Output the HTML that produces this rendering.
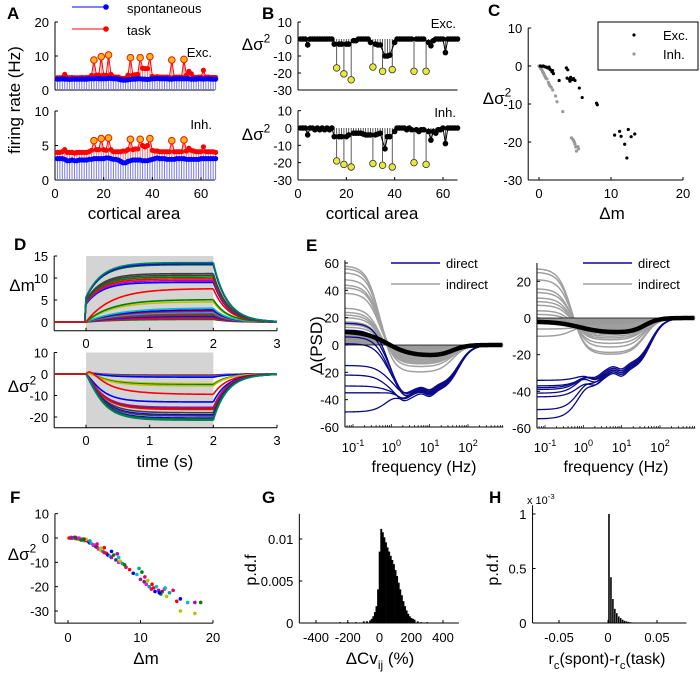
<!DOCTYPE html>
<html><head><meta charset="utf-8">
<style>
html,body{margin:0;padding:0;background:#fff;overflow:hidden;}
svg{display:block;font-family:"Liberation Sans",sans-serif;}
</style></head>
<body>
<svg id="fig" width="700" height="676" viewBox="0 0 700 676">
<rect x="0" y="0" width="700" height="676" fill="#fff"/>
</svg>
<script>
// ---------- DATA ----------
const areas = [];
for (let i = 1; i <= 66; i++) areas.push(i);
const stimAreas = [16,19,22,31,35,39,48,53];
const spontExc = [3.2,3.2,3.3,3.2,3.2,3.1,3.2,3.2,3.2,3.2,3.2,3.2,3.2,3.3,3.3,3.3,3.4,3.3,3.3,3.3,3.3,3.4,3.4,3.3,3.3,3.2,3.0,2.9,2.9,3.0,3.1,3.2,3.2,3.3,3.3,3.2,3.2,3.1,3.2,3.3,3.3,3.4,3.3,3.3,3.3,3.3,3.2,3.2,3.3,3.3,3.3,3.3,3.3,3.3,3.3,3.2,3.2,3.2,3.3,3.3,3.2,3.3,3.3,3.2,3.2,3.2];
const taskExc = [3.6,3.6,3.7,4.6,3.7,3.6,3.7,3.6,3.6,3.6,3.7,3.6,3.7,3.7,4.3,8.8,4.4,4.4,9.8,4.4,4.3,10.3,4.6,3.9,3.8,3.8,3.5,3.4,3.5,4.4,9.5,4.4,4.5,4.6,9.5,6.4,6.3,6.3,9.8,4.0,3.8,3.9,3.8,3.8,3.8,3.8,3.7,8.8,3.8,3.8,3.8,3.8,9.0,4.3,5.5,4.8,3.8,3.7,3.8,3.8,5.8,3.8,3.8,3.7,3.7,3.7];
const spontInh = [3.1,3.1,3.1,3.0,2.8,2.8,2.9,2.8,2.8,2.9,2.9,2.9,2.9,3.0,3.0,3.1,3.1,3.1,3.1,3.1,3.2,3.2,3.1,3.0,3.0,2.9,2.7,2.5,2.5,2.7,2.8,2.9,2.9,2.9,2.9,2.8,2.8,2.8,2.9,3.0,3.1,3.2,3.1,3.1,3.1,3.0,3.0,3.0,3.0,3.1,3.1,3.1,3.1,3.0,3.0,3.0,3.0,3.0,3.0,3.1,3.1,3.1,3.1,3.1,3.1,3.1];
const taskInh = [4.0,4.0,4.1,4.4,4.0,4.0,4.0,3.9,4.0,4.0,4.0,4.0,4.0,4.1,4.3,5.7,4.4,4.4,6.0,4.4,4.3,6.1,4.4,4.1,4.1,4.1,4.1,4.2,4.2,4.4,5.9,4.4,4.5,4.5,5.9,5.0,4.8,5.0,6.0,4.3,4.2,4.2,4.1,4.1,4.1,4.1,4.1,5.7,4.1,4.1,4.1,4.1,5.8,4.2,4.6,4.3,4.2,4.1,4.1,4.1,4.8,4.1,4.1,4.1,4.1,4.0];
const dsExc = [0,0,0,-3.5,0,0,0,0,0,0,0,0,0,0,-3,-17,-3,-3,-20.5,-3,-3,-24,-1,-1,0,0,0,0,0,-2,-16.5,-3,-3.5,-3.5,-19,-10,-10,-9.5,-18,-2,0,0,0,0,0,0,0,-19,0,0,0,0,-19,-2,-4,-1,0,0,0,0,-8,0,0,0,0,0];
const dsInh = [0,0,0,-4,0,0,-1,0,-1,0,-1,0,-1,0,-5,-19,-5,-5,-21,-5,-4,-22.5,-3,-3,-3,-3,-3.5,-4,-4,-4,-20.5,-4,-3.5,-3,-21.5,-12,-5,-5,-22.5,-2,0,0,0,0,-1,0,-1,-20,-1,-2,-1,-1,-21,-2,-7,-2,-3,-1,-1,0,-9,0,0,0,0,0];
const cExcDm = [0.2,0.4,0.6,0.8,1,1.2,1.4,1.6,1.8,2,1.5,1.9,2.8,3.8,4,3.9,4.2,4.4,4.6,4.8,4.3,5.0,5.6,6,8,8.1,10.5,11.2,11.4,11.9,12.2,12.4,12.8,13.3];
const cExcDs = [0,-0.1,0,-0.2,-0.3,-0.5,-0.3,-1,-1.5,-2,-0.8,-1.2,-3.8,-0.5,-1,-3.2,-3.5,-3,-3.6,-3.3,-4,-3.8,-5.8,-8.3,-9.8,-10.2,-18.2,-17.2,-18.5,-20.6,-24.2,-16.7,-18.6,-17.9];
const cInhDm = [0,0.1,0.2,0.3,0.4,0.5,0.6,0.7,0.8,0.9,1.0,1.1,1.3,1.4,1.5,1.7,1.9,2.3,2.5,3.3,4.5,4.7,4.9,5.0,5.1,5.2,5.4,5.5,4.8];
const cInhDs = [0,-0.2,-0.5,-0.8,-1,-1.5,-1.8,-2.2,-2.6,-3,-3.3,-3.4,-4.3,-4.8,-5.2,-5.6,-6.3,-7.9,-9.4,-12,-18.9,-19.3,-20,-20.6,-21.3,-22.4,-21.2,-21.8,-19.6];
const dmAmps = [13.5,13.2,13,11,10.6,10.2,9.8,9.4,9,7.6,5.1,4.6,3.2,2.8,2.5,2.2,2,1.8,1.6,1.4,1.2,1,0.8,0.6];
const dmTaus = [0.25,0.25,0.25,0.25,0.25,0.25,0.25,0.25,0.25,0.4,0.4,0.4,0.5,0.5,0.5,0.5,0.5,0.5,0.5,0.5,0.5,0.5,0.5,0.5];
const dmJumps = [0.42,0.42,0.42,0.45,0.45,0.45,0.45,0.45,0.45,0,0,0,0,0,0,0,0,0,0,0,0,0,0,0];
const dmColors = ['#008060','#0000ff','#008000','#404040','#404040','#008000','#ff0000','#bf00bf','#0000ff','#ff0000','#008000','#bfbf00','#00bfbf','#0000ff','#ff0000','#00bfbf','#bf00bf','#008000','#ff0000','#0000ff','#404040','#bf00bf','#ff0000','#008000'];
const dsAmps = [-21.5,-21,-20.5,-19.5,-19,-18,-16.5,-16,-15.5,-13,-9.5,-5.5,-5,-4.5,-1.5,-1.2,-1,-0.8,-0.5];
const dsTaus = [0.25,0.25,0.25,0.25,0.25,0.25,0.25,0.25,0.25,0.25,0.4,0.35,0.35,0.35,0.4,0.4,0.4,0.4,0.4];
const dsBumps = [1.5,1.5,1,1,1,1,1,1,1,1,2.5,1,1,1,0.5,0.5,0.5,0.5,0.5];
const dsColors = ['#008060','#008000','#0000ff','#404040','#0000ff','#404040','#ff0000','#404040','#bf00bf','#0000ff','#ff0000','#bfbf00','#008000','#bfbf00','#0000ff','#00bfbf','#008000','#ff0000','#bf00bf'];
const eLIndLow = [58,56,53,48,44,42,38,27,24,22,20,17,15,13];
const eLIndMid = [-20,-16,-14,-13,-12,-11,-10,-10,-9,-8,-7,-6,-5,-4];
const eLDirLow = [16,11,6,1,-15,-22,-30,-35,-49];
const eLDirMid = [-37,-35,-36,-34,-33,-38,-36,-35,-34];
const eLTotal = [10,-8];
const eRIndLow = [27,25,21,16,14,11,9,7,4,2,-2,-6,-10];
const eRIndMid = [-20,-19,-16,-14,-12,-11,-10,-9,-8,-7,-6,-5,-4];
const eRDirLow = [-34,-37,-39,-43,-50,-55,-41,-38];
const eRDirMid = [-30,-31,-29,-32,-30,-31,-28,-29];
const eRTotal = [-2,-8];
const fDm = [0.2,0.5,0.8,1,1.2,1.5,1.8,2,2.2,2.5,2.8,3,3.2,3.5,3.8,4,4.2,4.5,4.8,5,5.3,5.5,5.8,6,6.3,6.6,7,7.2,7.5,8,8.5,9,9.5,10,10.2,10.5,10.8,11,11.2,11.5,11.8,12,12.2,12.5,12.8,13,13.3,13.6,14,14.5,15,15.5,16.5,17.5,18.3,1,1.5,2.5,3,4,5,6,7,0.5,1.8,2.2,3.5,4.5,9.8,10.6,11.6,12.6,13.4,6.8,7.8];
const fDs = [0,0,0.2,0,-0.2,-0.2,-0.5,-0.3,-1,-1,-1.5,-2,-2.2,-3,-3.5,-3.8,-4.5,-5,-5.5,-6,-6.3,-7,-7.5,-8,-7,-9,-10,-9.5,-10.5,-12,-13,-14.5,-15,-17,-14,-18,-19,-17.5,-20,-21,-20.5,-22,-20,-21.5,-23,-22,-21,-24,-22.5,-21.5,-26,-25,-26.5,-26.5,-26.5,0.3,0,-0.5,-1.2,-2.5,-4,-5.5,-8,0.2,-0.8,-0.5,-2.8,-4.2,-12.5,-16,-19,-22.5,-20.5,-6.5,-11];
const fYellowDm = [0.1,0.3,0.5,0.7,0.9,1.1,1.3,1.5,1.7,1.9,2.1,2.3,0.4,0.8,1.2,1.6,2.0,15.5,17.5];
const fYellowDs = [0,0,-0.1,-0.1,-0.2,-0.3,-0.4,-0.5,-0.6,-0.7,-0.9,-1.1,0.3,0.2,0,-0.2,-0.4,-30,-31];
const gCenters = [-250,-200,-150,-100,-80,-60,-50,-40,-30,-20,-10,0,10,20,30,40,50,60,70,80,90,100,110,120,130,140,150,160,170,180,190,200,210,220,240,260,300];
const gVals = [0.0001,0.0001,0.0001,0.0002,0.0002,0.0003,0.0005,0.0008,0.0013,0.002,0.004,0.0085,0.0112,0.0108,0.0102,0.0096,0.009,0.0085,0.008,0.0075,0.007,0.0063,0.0056,0.0048,0.004,0.0033,0.0026,0.002,0.0015,0.0011,0.0008,0.0006,0.0005,0.0004,0.0002,0.0001,0.0001];
const hCenters = [0.001,0.003,0.005,0.007,0.009,0.011,0.013,0.015,0.017,0.019,0.021,0.023,0.025];
const hVals = [1.0,0.42,0.22,0.13,0.09,0.06,0.045,0.03,0.02,0.015,0.01,0.007,0.005];

// ---------- HELPERS ----------
const NS = 'http://www.w3.org/2000/svg';
const svg = document.getElementById('fig');
function mk(tag, attrs, name, parent) {
  const e = document.createElementNS(NS, tag);
  for (const k in attrs) e.setAttribute(k, attrs[k]);
  
  
  (parent || svg).appendChild(e);
  return e;
}
function txt(x, y, s, name, size, anchor, extra) {
  const a = {x: x, y: y, 'font-size': size || 13, 'text-anchor': anchor || 'middle', fill: '#000'};
  if (extra) for (const k in extra) a[k] = extra[k];
  const t = mk('text', a, name);
  t.textContent = s;
  return t;
}
function supTxt(x, y, base, sup, name, size, anchor, extra) {
  const a = {x: x, y: y, 'font-size': size, 'text-anchor': anchor || 'middle', fill: '#000'};
  if (extra) for (const k in extra) a[k] = extra[k];
  const t = mk('text', a, name);
  const t1 = mk('tspan', {}, name + '-base', t);
  t1.textContent = base;
  const t2 = mk('tspan', {dy: -size * 0.45, 'font-size': size * 0.7}, name + '-sup', t);
  t2.textContent = sup;
  return t;
}
function subTxt(x, y, parts, name, size, anchor, extra) {
  const a = {x: x, y: y, 'font-size': size, 'text-anchor': anchor || 'middle', fill: '#000'};
  if (extra) for (const k in extra) a[k] = extra[k];
  const t = mk('text', a, name);
  let lastSub = false;
  parts.forEach((p) => {
    const attrs = {};
    if (p[1] && !lastSub) { attrs.dy = size * 0.3; }
    else if (!p[1] && lastSub) { attrs.dy = -size * 0.3; }
    if (p[1]) attrs['font-size'] = size * 0.7;
    const s = mk('tspan', attrs, name + '-part', t);
    s.textContent = p[0];
    lastSub = p[1];
  });
  return t;
}
function lin(d0, d1, r0, r1) { return v => r0 + (v - d0) * (r1 - r0) / (d1 - d0); }
function axes(name, xs, ys, xmin, xmax, ymin, ymax, xt, xtl, yt, ytl, xlabY) {
  const x0 = xs(xmin), x1 = xs(xmax), y0 = ys(ymin), y1 = ys(ymax);
  mk('line', {x1: x0, y1: y0, x2: x1, y2: y0, stroke: '#000', 'stroke-width': 1}, name + '-x-axis');
  mk('line', {x1: x0, y1: y0, x2: x0, y2: y1, stroke: '#000', 'stroke-width': 1}, name + '-y-axis');
  xt.forEach((v, i) => {
    mk('line', {x1: xs(v), y1: y0, x2: xs(v), y2: y0 - 3, stroke: '#000'}, name + '-x-tick');
    if (xtl) txt(xs(v), y0 + (xlabY || 16), xtl[i], name + '-x-tick-label', 13);
  });
  yt.forEach((v, i) => {
    mk('line', {x1: x0, y1: ys(v), x2: x0 + 3, y2: ys(v), stroke: '#000'}, name + '-y-tick');
    if (ytl) txt(x0 - 6, ys(v) + 5, ytl[i], name + '-y-tick-label', 13, 'end');
  });
}
function pathFrom(pts) { return pts.map((p, i) => (i ? 'L' : 'M') + p[0].toFixed(2) + ',' + p[1].toFixed(2)).join(''); }

// ---------- PANEL LETTERS ----------
[['A',7,19],['B',262,19],['C',488,16],['D',14,250],['E',306,251],['F',10,503],['G',262,503],['H',489,503]].forEach(l => {
  txt(l[1], l[2], l[0], 'panel-label-' + l[0].toLowerCase(), 17, 'start', {'font-weight': 'bold'});
});

// ---------- PANEL A ----------
function panelA(name, ys, spont, task, ymax, yt, ytl, label, labY) {
  const xs = lin(0, 60, 55, 201);
  axes(name, xs, ys, 0, 65.7, 0, ymax, [], null, yt, ytl);
  areas.forEach((a, i) => {
    mk('line', {x1: xs(a), y1: ys(0), x2: xs(a), y2: ys(spont[i]), stroke: '#7a7ae8', 'stroke-width': 1}, 'spont-stem');
    mk('line', {x1: xs(a), y1: ys(spont[i]), x2: xs(a), y2: ys(task[i]), stroke: '#f07a7a', 'stroke-width': 1}, 'task-stem');
  });
  mk('path', {d: pathFrom(areas.map((a, i) => [xs(a), ys(task[i])])), stroke: '#ff0000', fill: 'none', 'stroke-width': 1}, 'task-line');
  areas.forEach((a, i) => {
    if (stimAreas.indexOf(a) >= 0) mk('circle', {cx: xs(a), cy: ys(task[i]), r: 3.3, fill: '#ffb020', stroke: '#e02000', 'stroke-width': 1}, 'task-stimulated-marker');
    else mk('circle', {cx: xs(a), cy: ys(task[i]), r: 2.6, fill: '#ff0000'}, 'task-marker');
  });
  mk('path', {d: pathFrom(areas.map((a, i) => [xs(a), ys(spont[i])])), stroke: '#0000ff', fill: 'none', 'stroke-width': 1}, 'spont-line');
  areas.forEach((a, i) => {
    mk('circle', {cx: xs(a), cy: ys(spont[i]), r: 2.6, fill: '#0000ff'}, 'spont-marker');
  });
  txt(212, labY, label, name + '-title', 13, 'end');
}
panelA('panel-a-exc', lin(0, 20, 90, 22), spontExc, taskExc, 20, [0,10,20], ['0','10','20'], 'Exc.', 57);
panelA('panel-a-inh', lin(0, 10, 180, 111), spontInh, taskInh, 10, [0,5,10], ['0','5','10'], 'Inh.', 129);
(function(){
  const xs = lin(0, 60, 55, 201);
  [0,20,40,60].forEach(v => txt(xs(v), 198, String(v), 'panel-a-x-tick-label', 13));
  [0,20,40,60].forEach(v => mk('line', {x1: xs(v), y1: 180, x2: xs(v), y2: 177, stroke: '#000'}, 'panel-a-x-tick'));
  txt(134, 219, 'cortical area', 'panel-a-x-axis-title', 17);
  txt(20, 100, 'firing rate (Hz)', 'panel-a-y-axis-title', 17, 'middle', {transform: 'rotate(-90 20 100)'});
  mk('line', {x1: 72, y1: 7, x2: 107, y2: 7, stroke: '#0000ff'}, 'legend-spontaneous-line');
  mk('circle', {cx: 106, cy: 7, r: 2.8, fill: '#0000ff'}, 'legend-spontaneous-marker');
  txt(127, 13, 'spontaneous', 'legend-spontaneous-label', 13, 'start');
  mk('line', {x1: 72, y1: 29, x2: 107, y2: 29, stroke: '#ff0000'}, 'legend-task-line');
  mk('circle', {cx: 106, cy: 29, r: 2.8, fill: '#ff0000'}, 'legend-task-marker');
  txt(127, 35, 'task', 'legend-task-label', 13, 'start');
})();

// ---------- PANEL B ----------
function panelB(name, ys, vals, label, labY) {
  const xs = lin(0, 60, 298, 443);
  axes(name, xs, ys, 0, 66, -30, 10, [], null, [-30,-20,-10,0,10], ['-30','-20','-10','0','10']);
  areas.forEach((a, i) => {
    mk('line', {x1: xs(a), y1: ys(0), x2: xs(a), y2: ys(vals[i]), stroke: '#333', 'stroke-width': 0.8}, 'stem');
  });
  const non = areas.filter(a => stimAreas.indexOf(a) < 0);
  mk('path', {d: pathFrom(non.map(a => [xs(a), ys(vals[a - 1])])), stroke: '#000', fill: 'none', 'stroke-width': 1}, 'nonstim-line');
  areas.forEach((a, i) => {
    if (stimAreas.indexOf(a) >= 0) mk('circle', {cx: xs(a), cy: ys(vals[i]), r: 3.3, fill: '#e8e838', stroke: '#333', 'stroke-width': 0.8}, 'stimulated-marker');
    else mk('circle', {cx: xs(a), cy: ys(vals[i]), r: 2.8, fill: '#000'}, 'nonstim-marker');
  });
  txt(456, labY, label, name + '-title', 13, 'end');
}
panelB('panel-b-exc', lin(0, -30, 39, 90), dsExc, 'Exc.', 28);
panelB('panel-b-inh', lin(0, -30, 128, 180), dsInh, 'Inh.', 117);
(function(){
  const xs = lin(0, 60, 298, 443);
  [0,20,40,60].forEach(v => txt(xs(v), 198, String(v), 'panel-b-x-tick-label', 13));
  [0,20,40,60].forEach(v => mk('line', {x1: xs(v), y1: 180, x2: xs(v), y2: 177, stroke: '#000'}, 'panel-b-x-tick'));
  txt(372, 219, 'cortical area', 'panel-b-x-axis-title', 17);
  supTxt(256, 50, 'Δσ', '2', 'panel-b-exc-y-axis-title', 17);
  supTxt(256, 140, 'Δσ', '2', 'panel-b-inh-y-axis-title', 17);
})();

// ---------- PANEL C ----------
(function(){
  const xs = lin(0, 20, 539, 683), ys = lin(0, -30, 66, 180);
  axes('panel-c', xs, ys, -1.5, 20, -30, 10, [0,10,20], ['0','10','20'], [-30,-20,-10,0,10], ['-30','-20','-10','0','10'], 18);
  cInhDm.forEach((d, i) => mk('circle', {cx: xs(d), cy: ys(cInhDs[i]), r: 1.6, fill: '#999'}, 'inh-point'));
  cExcDm.forEach((d, i) => mk('circle', {cx: xs(d), cy: ys(cExcDs[i]), r: 1.6, fill: '#000'}, 'exc-point'));
  mk('rect', {x: 598, y: 22, width: 100, height: 48, fill: '#fff', stroke: '#000'}, 'panel-c-legend-box');
  mk('circle', {cx: 634, cy: 35, r: 1.6, fill: '#000'}, 'legend-exc-marker');
  txt(663, 40, 'Exc.', 'legend-exc-label', 13, 'start');
  mk('circle', {cx: 634, cy: 54, r: 1.6, fill: '#999'}, 'legend-inh-marker');
  txt(663, 59, 'Inh.', 'legend-inh-label', 13, 'start');
  supTxt(497, 104, 'Δσ', '2', 'panel-c-y-axis-title', 17);
  txt(612, 219, 'Δm', 'panel-c-x-axis-title', 17);
})();

// ---------- PANEL D ----------
function dCurve(A, tau, jump, bump, t) {
  if (t < 0) return 0;
  const rise = tt => A * (1 - (1 - jump) * Math.exp(-tt / tau)) + (bump ? bump * (tt / 0.1) * Math.exp(1 - tt / 0.1) : 0);
  if (t <= 2) return rise(t);
  return rise(2) * Math.exp(-(t - 2) / 0.22);
}
function panelD(name, ys, ymin, ymax, yt, ytl, amps, taus, jumps, bumps, cols) {
  const xs = lin(0, 3, 86, 277);
  mk('rect', {x: xs(0), y: ys(ymax), width: xs(2) - xs(0), height: ys(ymin) - ys(ymax), fill: '#d4d4d4'}, name + '-stimulus-window');
  axes(name, xs, ys, -0.5, 3, ymin, ymax, [0,1,2,3], ['0','1','2','3'], yt, ytl, 17);
  const ts = [];
  for (let t = -0.5; t <= 3.0001; t += 0.02) ts.push(t);
  ts.push(0); ts.sort((a, b) => a - b);
  for (let i = amps.length - 1; i >= 0; i--) {
    const pts = [];
    const j = jumps ? jumps[i] : 0, b = bumps ? bumps[i] : 0;
    ts.forEach(t => pts.push([xs(t), ys(dCurve(amps[i], taus[i], j, b, t))]));
    pts.splice(pts.findIndex(p => p[0] > xs(2)), 0, [xs(2.0001), ys(dCurve(amps[i], taus[i], j, b, 2))]);
    mk('path', {d: pathFrom(pts), stroke: cols[i], fill: 'none', 'stroke-width': 1.6}, name + '-curve');
  }
  mk('line', {x1: xs(-0.5), y1: ys(0), x2: xs(0), y2: ys(0), stroke: '#ff0000', 'stroke-width': 1.6}, name + '-baseline');
}
panelD('panel-d-dm', lin(0, 15, 322, 256), -2, 15, [0,5,10,15], ['0','5','10','15'], dmAmps, dmTaus, dmJumps, null, dmColors);
panelD('panel-d-ds', lin(0, -20, 374, 417), -25, 10, [-20,-10,0,10], ['-20','-10','0','10'], dsAmps, dsTaus, null, dsBumps, dsColors);
txt(22, 291, 'Δm', 'panel-d-dm-y-axis-title', 17);
supTxt(22, 392, 'Δσ', '2', 'panel-d-ds-y-axis-title', 17);
txt(165, 467, 'time (s)', 'panel-d-x-axis-title', 17);

// ---------- PANEL E ----------
function sig(x, c, w) { return 1 / (1 + Math.exp(-(x - c) / w)); }
function eCurve(L, M, lf, direct, total) {
  const s1 = sig(lf, direct ? -0.1 : (total ? -0.1 : -0.3), direct ? 0.18 : (total ? 0.3 : 0.17));
  const s2 = 1 - sig(lf, direct ? 1.75 : 1.6, direct ? 0.17 : 0.18);
  let mid = M;
  if (direct) mid = M * (1 + 0.12 * Math.exp(-Math.pow(lf - 0.3, 2) / 0.05) - 0.1 * sig(lf, 0.7, 0.08) + 0.1 * Math.exp(-Math.pow(lf - 1.0, 2) / 0.03));
  return L * (1 - s1) + mid * s1 * s2;
}
function panelE(name, x0, ys, ymin, ymax, yt, ytl, indLow, indMid, dirLow, dirMid, total) {
  const xs = lin(-1, 2, x0 + 8, x0 + 123);
  const lmin = -1.21, lmax = 2.92;
  const lfs = [];
  for (let l = lmin; l <= lmax + 1e-9; l += 0.03) lfs.push(l);
  const tp = lfs.map(l => [xs(l), ys(eCurve(total[0], total[1], l, false, true))]);
  const fillPts = tp.concat([[xs(lmax), ys(0)], [xs(lmin), ys(0)]]);
  mk('path', {d: pathFrom(fillPts) + 'Z', fill: '#9a9a9a', stroke: 'none'}, name + '-total-fill');
  indLow.forEach((L, i) => {
    mk('path', {d: pathFrom(lfs.map(l => [xs(l), ys(eCurve(L, indMid[i], l, false, false))])), stroke: '#a0a0a0', fill: 'none', 'stroke-width': 1.5}, name + '-indirect-curve');
  });
  dirLow.forEach((L, i) => {
    mk('path', {d: pathFrom(lfs.map(l => [xs(l), ys(eCurve(L, dirMid[i], l, true, false))])), stroke: '#0a0a8a', fill: 'none', 'stroke-width': 1.3}, name + '-direct-curve');
  });
  mk('line', {x1: xs(lmin), y1: ys(0), x2: xs(lmax), y2: ys(0), stroke: '#000', 'stroke-width': 0.8}, name + '-zero-line');
  mk('path', {d: pathFrom(tp), stroke: '#000', fill: 'none', 'stroke-width': 4.5}, name + '-total-curve');
  axes(name, xs, ys, lmin, lmax, ymin, ymax, [], null, yt, ytl);
  for (let d = -2; d <= 2; d++) for (let k = 1; k <= 9; k++) {
    const l = d + Math.log10(k);
    if (l < lmin || l > lmax) continue;
    mk('line', {x1: xs(l), y1: ys(ymin), x2: xs(l), y2: ys(ymin) - (k === 1 ? 3 : 2), stroke: '#000', 'stroke-width': 0.7}, name + '-x-tick');
  }
  [-1,0,1,2].forEach(d => supTxt(xs(d), 452, '10', String(d), name + '-x-tick-label', 13));
  txt(x0 + 79, 472, 'frequency (Hz)', name + '-x-axis-title', 16);
  mk('line', {x1: x0 + 46, y1: 263, x2: x0 + 95, y2: 263, stroke: '#0a0a8a', 'stroke-width': 1.5}, name + '-legend-direct-line');
  txt(x0 + 101, 268, 'direct', name + '-legend-direct-label', 13, 'start');
  mk('line', {x1: x0 + 46, y1: 284, x2: x0 + 95, y2: 284, stroke: '#a0a0a0', 'stroke-width': 1.5}, name + '-legend-indirect-line');
  txt(x0 + 101, 289, 'indirect', name + '-legend-indirect-label', 13, 'start');
}
panelE('panel-e-left', 345, lin(0, -60, 345, 427), -60, 62, [-60,-40,-20,0,20,40,60], ['-60','-40','-20','0','20','40','60'], eLIndLow, eLIndMid, eLDirLow, eLDirMid, eLTotal);
panelE('panel-e-right', 537, lin(0, -60, 318, 428), -60, 30, [-60,-40,-20,0,20], ['-60','-40','-20','0','20'], eRIndLow, eRIndMid, eRDirLow, eRDirMid, eRTotal);
txt(322, 345, 'Δ(PSD)', 'panel-e-y-axis-title', 17, 'middle', {transform: 'rotate(-90 322 345)'});

// ---------- PANEL F ----------
(function(){
  const xs = lin(0, 20, 68, 213), ys = lin(0, -30, 538, 611);
  axes('panel-f', xs, ys, -1.8, 20, -35, 10, [0,10,20], ['0','10','20'], [-30,-20,-10,0,10], ['-30','-20','-10','0','10'], 19);
  const cols = ['#ff0000','#0000ff','#00bfbf','#bf00bf','#008000','#404040','#ff00ff','#bfbf00','#00a0a0','#e00080'];
  fYellowDm.forEach((d, i) => mk('circle', {cx: xs(d), cy: ys(fYellowDs[i]), r: 1.8, fill: '#c0c000'}, 'f-point'));
  fDm.forEach((d, i) => {
    if (i >= fDs.length) return;
    mk('circle', {cx: xs(d), cy: ys(fDs[i]), r: 1.8, fill: cols[i % cols.length]}, 'f-point');
  });
  supTxt(22, 560, 'Δσ', '2', 'panel-f-y-axis-title', 17);
  txt(146, 664, 'Δm', 'panel-f-x-axis-title', 17);
})();

// ---------- PANEL G ----------
(function(){
  const xs = lin(-400, 400, 316, 443), ys = lin(0, 0.01, 623, 539);
  gCenters.forEach((c, i) => {
    mk('rect', {x: xs(c - 5), y: ys(gVals[i]), width: xs(c + 5) - xs(c - 5) + 0.3, height: ys(0) - ys(gVals[i]), fill: '#000'}, 'g-histogram-bar');
  });
  axes('panel-g', xs, ys, -505, 500, 0, 0.013, [-400,-200,0,200,400], ['-400','-200','0','200','400'], [0,0.005,0.01], ['0','0.005','0.01'], 19);
  txt(256, 570, 'p.d.f', 'panel-g-y-axis-title', 16, 'middle', {transform: 'rotate(-90 256 570)'});
  subTxt(380, 664, [['ΔCv', false], ['ij', true], [' (%)', false]], 'panel-g-x-axis-title', 17);
})();

// ---------- PANEL H ----------
(function(){
  const xs = lin(-0.05, 0.05, 559, 657), ys = lin(0, 1, 623, 514);
  hCenters.forEach((c, i) => {
    mk('rect', {x: xs(c - 0.0008), y: ys(hVals[i]), width: xs(c + 0.0008) - xs(c - 0.0008), height: ys(0) - ys(hVals[i]), fill: '#000'}, 'h-histogram-bar');
  });
  axes('panel-h', xs, ys, -0.077, 0.08, 0, 1.08, [-0.05,0,0.05], ['-0.05','0','0.05'], [0,0.5,1], ['0','0.5','1'], 19);
  supTxt(527, 504, 'x 10', '-3', 'panel-h-y-scale-label', 11, 'start');
  txt(498, 570, 'p.d.f', 'panel-h-y-axis-title', 16, 'middle', {transform: 'rotate(-90 498 570)'});
  subTxt(607, 664, [['r', false], ['c', true], ['(spont)-r', false], ['c', true], ['(task)', false]], 'panel-h-x-axis-title', 16);
})();
</script>
</body></html>
